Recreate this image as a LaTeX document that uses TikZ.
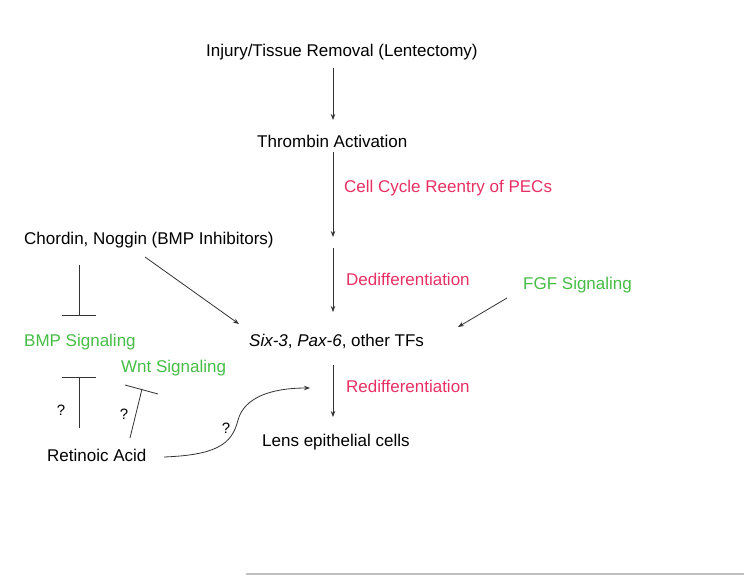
\documentclass[tikz,border=0pt]{standalone}
\usepackage{fontspec}
\setmainfont{Liberation Sans}
\usetikzlibrary{arrows.meta}
\definecolor{pinkc}{RGB}{232,48,100}
\definecolor{greenc}{RGB}{70,190,70}
\begin{document}
\begin{tikzpicture}[x=1pt,y=-1pt,
  lbl/.style={font=\fontsize{17}{20}\selectfont, inner sep=0pt, anchor=west},
  plbl/.style={lbl, text=pinkc},
  glbl/.style={lbl, text=greenc},
  q/.style={font=\fontsize{15}{18}\selectfont, inner sep=0pt},
  arr/.style={draw=black!80, line width=0.8pt, -{Stealth[length=6pt,width=4.5pt]}},
  inh/.style={draw=black!80, line width=0.8pt}]
\useasboundingbox[fill=white] (0,0) rectangle (744,575);
\node[lbl] (inj) at (206,52) {Injury/Tissue Removal (Lentectomy)};
\node[lbl] (thr) at (257,141) {Thrombin Activation};
\node[plbl] (ccr) at (344,188) {Cell Cycle Reentry of PECs};
\node[lbl] (chd) at (24,240) {Chordin, Noggin (BMP Inhibitors)};
\node[plbl] (ded) at (346,279) {Dedifferentiation};
\node[glbl] (fgf) at (523,285) {FGF Signaling};
\node[lbl] (six) at (249,341) {\textit{Six-3}, \textit{Pax-6}, other TFs};
\node[glbl] (bmp) at (24,342) {BMP Signaling};
\node[glbl] (wnt) at (121,368) {Wnt Signaling};
\node[plbl] (red) at (346,386) {Redifferentiation};
\node[lbl] (ra) at (47,455) {Retinoic Acid};
\node[lbl] (lens) at (262,442) {Lens epithelial cells};
\node[q] (q1) at (61,410) {?};
\node[q] (q2) at (124,414) {?};
\node[q] (q3) at (226,428) {?};
% coordinates
\coordinate (a1s) at (333,68);  \coordinate (a1e) at (333,120);
\coordinate (a2s) at (333,152); \coordinate (a2e) at (333,237);
\coordinate (a3s) at (333,248); \coordinate (a3e) at (333,312);
\coordinate (a4s) at (333,365); \coordinate (a4e) at (333,417);
\draw[arr] (a1s) -- (a1e);
\draw[arr] (a2s) -- (a2e);
\draw[arr] (a3s) -- (a3e);
\draw[arr] (a4s) -- (a4e);
\coordinate (cs) at (145,257); \coordinate (ce) at (239,324);
\draw[arr] (cs) -- (ce);
\coordinate (fs) at (507,298); \coordinate (fe) at (458,327);
\draw[arr] (fs) -- (fe);
% inhibitions
\coordinate (i1s) at (79,265); \coordinate (i1e) at (79,315);
\draw[inh] (i1s) -- (i1e);
\draw[inh] (62,315) -- (96,315);
\coordinate (i2s) at (79,428); \coordinate (i2e) at (79,377);
\draw[inh] (i2s) -- (i2e);
\draw[inh] (62,377) -- (96,377);
\coordinate (i3s) at (130,438); \coordinate (i3e) at (142,389);
\draw[inh] (i3s) -- (i3e);
\draw[inh] (125,385) -- (158,394);
% curve
\coordinate (rs) at (164,457); \coordinate (re) at (310,388);
\draw[arr] (rs) .. controls (215,455) and (232,445) .. (238,420)
  .. controls (244,398) and (270,388) .. (re);
% gray rule
\draw[black!25, line width=1.2pt] (246,574) -- (744,574);
\end{tikzpicture}
\end{document}
